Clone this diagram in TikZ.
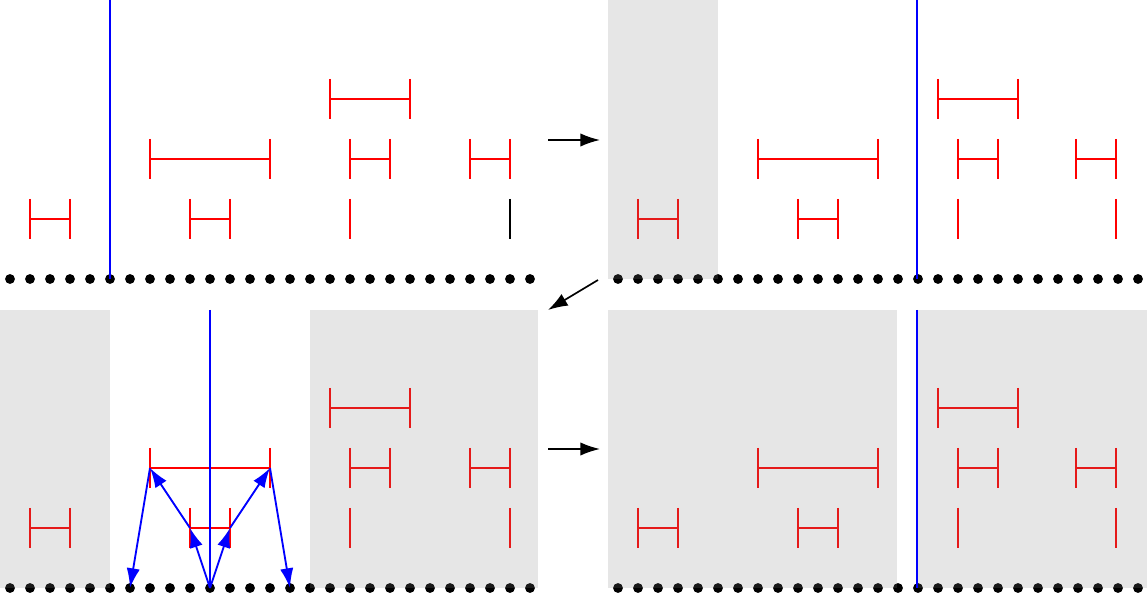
\documentclass[tikz,border=0pt]{standalone}
\usetikzlibrary{arrows.meta}

% one interval: left end, right end, height, style
\newcommand{\ivl}[4]{\draw[#4] (#1,#3-20) -- (#1,#3+20) (#1,#3) -- (#2,#3) (#2,#3-20) -- (#2,#3+20);}
% a single end point
\newcommand{\onept}[3]{\draw[#3] (#1,#2-20) -- (#1,#2+20);}

\begin{document}
\begin{tikzpicture}[x=0.025cm,y=-0.025cm]
	\tikzstyle{seg_red} = [draw=red, line width=1.3pt]
	\tikzstyle{seg_black} = [draw=black, line width=1.3pt]
	\tikzstyle{sweep_line} = [draw=blue, line width=1.4pt]
	\tikzstyle{sweep_arrow} = [draw=blue, line width=1.3pt, -{Latex[length=14pt,width=9.5pt]}]
	\tikzstyle{step_arrow} = [draw=black, line width=1.2pt, -{Latex[length=14pt,width=9.5pt]}]
	\tikzstyle{done_area} = [fill=gray, opacity=0.2]
	\tikzstyle{point} = [circle, fill=black, inner sep=0pt, minimum size=7pt]

	\useasboundingbox (0,0) rectangle (1147,596);

%------------------------------------------------------------
	% top left
	\ivl{30}{70}{219}{seg_red}
	\ivl{190}{230}{219}{seg_red}
	\onept{350}{219}{seg_red}
	\onept{510}{219}{seg_black}
	\ivl{150}{270}{159}{seg_red}
	\ivl{350}{390}{159}{seg_red}
	\ivl{470}{510}{159}{seg_red}
	\ivl{330}{410}{99}{seg_red}
	\foreach \i in {0,...,26}
		\node[point] (tl\i) at (10+20*\i,279) {};
	\coordinate (tltop) at (110,0);
	\draw[sweep_line] (tltop) -- (tl5.center);

%------------------------------------------------------------
	% top right
	\begin{scope}[xshift=608*0.025cm]
	\ivl{30}{70}{219}{seg_red}
	\ivl{190}{230}{219}{seg_red}
	\onept{350}{219}{seg_red}
	\onept{508}{219}{seg_red}
	\ivl{150}{270}{159}{seg_red}
	\ivl{350}{390}{159}{seg_red}
	\ivl{468}{508}{159}{seg_red}
	\ivl{330}{410}{99}{seg_red}
	\foreach \i in {0,...,26}
		\node[point] (tr\i) at (10+20*\i,279) {};
	\fill[done_area] (0,0) rectangle (110,279);
	\coordinate (trtop) at (309,0);
	\draw[sweep_line] (trtop) -- (309,279);
	\end{scope}

%------------------------------------------------------------
	% bottom left
	\ivl{30}{70}{528}{seg_red}
	\ivl{190}{230}{528}{seg_red}
	\onept{350}{528}{seg_red}
	\onept{510}{528}{seg_red}
	\ivl{150}{270}{468}{seg_red}
	\ivl{350}{390}{468}{seg_red}
	\ivl{470}{510}{468}{seg_red}
	\ivl{330}{410}{408}{seg_red}
	\foreach \i in {0,...,26}
		\node[point] (bl\i) at (10+20*\i,588) {};
	\fill[done_area] (0,310) rectangle (110,588);
	\fill[done_area] (310,310) rectangle (538,588);
	\coordinate (bltop) at (210,310);
	\draw[sweep_line] (bltop) -- (bl10.center);

	\coordinate (sl) at (190,528);
	\coordinate (sr) at (230,528);
	\coordinate (ll) at (150,468);
	\coordinate (lr) at (270,468);
	\draw[sweep_arrow] (bl10.center) -- (sl);
	\draw[sweep_arrow] (bl10.center) -- (sr);
	\draw[sweep_arrow] (sl) -- (ll);
	\draw[sweep_arrow] (sr) -- (lr);
	\draw[sweep_arrow] (ll) -- (bl6.center);
	\draw[sweep_arrow] (lr) -- (bl14.center);

%------------------------------------------------------------
	% bottom right
	\begin{scope}[xshift=608*0.025cm]
	\ivl{30}{70}{528}{seg_red}
	\ivl{190}{230}{528}{seg_red}
	\onept{350}{528}{seg_red}
	\onept{508}{528}{seg_red}
	\ivl{150}{270}{468}{seg_red}
	\ivl{350}{390}{468}{seg_red}
	\ivl{468}{508}{468}{seg_red}
	\ivl{330}{410}{408}{seg_red}
	\foreach \i in {0,...,26}
		\node[point] (br\i) at (10+20*\i,588) {};
	\fill[done_area] (0,310) rectangle (289,588);
	\fill[done_area] (310,310) rectangle (539,588);
	\coordinate (brtop) at (309,310);
	\draw[sweep_line] (brtop) -- (309,588);
	\end{scope}

%------------------------------------------------------------
	% steps
	\coordinate (a1) at (548,140);
	\coordinate (b1) at (600,140);
	\coordinate (a2) at (598,280);
	\coordinate (b2) at (548,310);
	\coordinate (a3) at (548,449);
	\coordinate (b3) at (600,449);
	\draw[step_arrow] (a1) -- (b1);
	\draw[step_arrow] (a2) -- (b2);
	\draw[step_arrow] (a3) -- (b3);

\end{tikzpicture}
\end{document}
